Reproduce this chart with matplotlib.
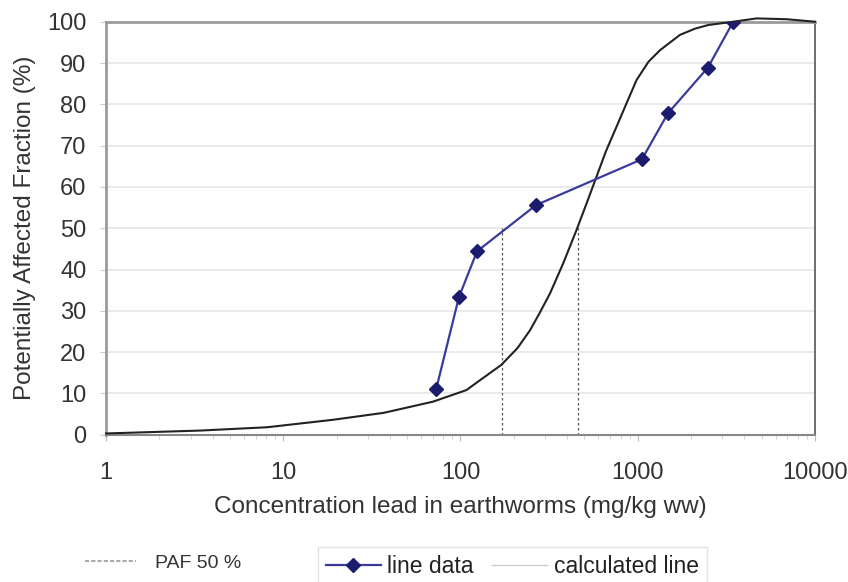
import matplotlib.pyplot as plt
from matplotlib.lines import Line2D
from matplotlib.ticker import FixedLocator, LogLocator, NullFormatter

plt.rcParams['font.family'] = ['Liberation Sans', 'DejaVu Sans']

# measured species data (PAF per concentration)
conc_data = [73, 98, 124, 267, 1057, 1480, 2490, 3460]
paf_data = [11.1, 33.3, 44.4, 55.6, 66.7, 77.8, 88.9, 100]

# calculated curve
conc_calc = [1, 3.4, 8.1, 19, 37, 70, 108, 129, 170, 210, 247, 280, 320, 380,
             452, 520, 586, 660, 760, 870, 986, 1150, 1336, 1730, 2100, 2500,
             3465, 4690, 6920, 10000]
paf_calc = [0.3, 1.0, 1.8, 3.6, 5.3, 8.0, 10.8, 13.2, 16.9, 21.0, 25.3, 29.5,
            34.2, 41.5, 49.6, 56.5, 62.5, 68.5, 74.6, 80.5, 85.9, 90.3, 93.1,
            96.8, 98.3, 99.2, 100.0, 100.8, 100.6, 100.0]

# PAF 50 % markers
paf50_conc = [171, 458]
paf50_level = 50

x_ticks = [1, 10, 100, 1000, 10000]
x_labels = ['1', '10', '100', '1000', '10000']
y_ticks = list(range(0, 101, 10))

fig = plt.figure(figsize=(8.48, 5.82), dpi=100)
ax = fig.add_axes([0.125, 0.2531, 0.836, 0.7096])

ax.set_xscale('log')
ax.set_xlim(1, 10000)
ax.set_ylim(0, 100)

for v in y_ticks[1:-1]:
    ax.axhline(v, color='#e6e6e6', lw=1.2, zorder=0)

ax.vlines(paf50_conc, 0, paf50_level, colors='#555555', linestyles=(0, (2, 2)), lw=0.9, zorder=2)

ax.plot(conc_calc, paf_calc, color='#222222', lw=1.5, clip_on=False, zorder=3)
ax.plot(conc_data, paf_data, color='#3b3b9c', lw=1.6, marker='D', markersize=7,
        markerfacecolor='#1c1c6e', markeredgecolor='#1c1c6e', zorder=4)

ax.xaxis.set_major_locator(FixedLocator(x_ticks))
ax.set_xticklabels(x_labels)
ax.xaxis.set_minor_locator(LogLocator(base=10, subs=range(2, 10)))
ax.xaxis.set_minor_formatter(NullFormatter())
ax.set_yticks(y_ticks)

ax.tick_params(axis='x', which='major', length=4, color='#bbbbbb', labelsize=17,
               labelcolor='#333333', pad=16)
ax.tick_params(axis='x', which='minor', length=3, color='#cccccc')
ax.tick_params(axis='y', length=4, color='#cccccc', labelsize=17, labelcolor='#333333', pad=10)

for side in ['left', 'top']:
    ax.spines[side].set_color('#9a9a9a')
    ax.spines[side].set_linewidth(2)
ax.spines['bottom'].set_color('#888888')
ax.spines['bottom'].set_linewidth(1.5)
ax.spines['right'].set_color('#555555')
ax.spines['right'].set_linewidth(1.2)

ax.set_xlabel('Concentration lead in earthworms (mg/kg ww)', fontsize=17.5, color='#333333', labelpad=8)
ax.set_ylabel('Potentially Affected Fraction (%)', fontsize=17.5, color='#333333', labelpad=8)

paf_handle = Line2D([], [], color='#aaaaaa', lw=1.5, linestyle=(0, (2, 1)))
fig.legend([paf_handle], ['PAF 50 %'], loc='center left', bbox_to_anchor=(0.08, 0.033),
           frameon=False, fontsize=14, handlelength=2.6, handletextpad=1.0,
           labelcolor='#333333')

data_handle = Line2D([], [], color='#3b3b9c', lw=1.6, marker='D', markersize=7,
                     markerfacecolor='#1c1c6e', markeredgecolor='#1c1c6e')
calc_handle = Line2D([], [], color='#cccccc', lw=1)
leg = fig.legend([data_handle, calc_handle], ['line data', 'calculated line'],
                 loc='upper left', bbox_to_anchor=(0.361, 0.080), ncol=2, frameon=True,
                 fontsize=16.5, handlelength=2.4, handletextpad=0.3, columnspacing=0.8,
                 fancybox=False, borderpad=0.35, labelcolor='#222222')
leg.get_frame().set_edgecolor('#dddddd')
leg.get_frame().set_linewidth(1)

fig.savefig('out.png', dpi=100)
